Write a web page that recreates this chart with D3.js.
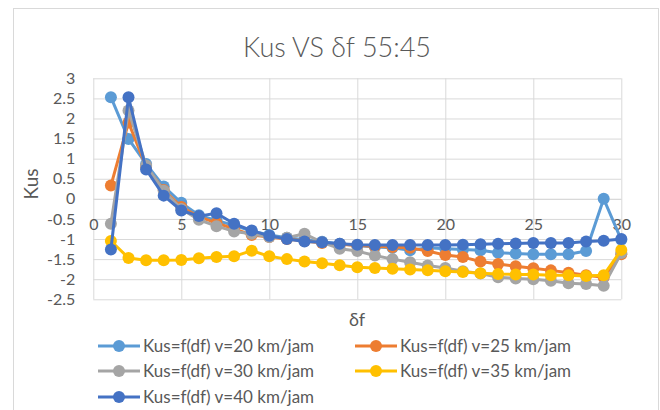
<!DOCTYPE html>
<html>
<head>
<meta charset="utf-8">
<script src="https://cdn.jsdelivr.net/npm/d3@7"></script>
<style>
  body { margin: 0; background: #fff; }
  svg text { font-family: Lato, "Open Sans", sans-serif; fill: #595959; }
</style>
</head>
<body>
<div id="chart"></div>
<script>
// === DATA ===
const df = d3.range(1, 31);
const seriesNames = [
    "Kus=f(df) v=20 km/jam",
    "Kus=f(df) v=25 km/jam",
    "Kus=f(df) v=30 km/jam",
    "Kus=f(df) v=35 km/jam",
    "Kus=f(df) v=40 km/jam"
];
const kusV20 = [2.53, 1.49, 0.87, 0.31, -0.1, -0.41, -0.54, -0.66, -0.8, -0.9,
    -0.97, -1.02, -1.07, -1.12, -1.16, -1.2, -1.22, -1.28, -1.22, -1.24,
    -1.26, -1.28, -1.34, -1.36, -1.38, -1.38, -1.38, -1.3, 0.0, -1.02];
const kusV25 = [0.33, 1.9, 0.8, 0.22, -0.2, -0.45, -0.6, -0.75, -0.9, -0.95,
    -1.0, -1.05, -1.1, -1.13, -1.16, -1.18, -1.2, -1.22, -1.3, -1.4,
    -1.45, -1.56, -1.62, -1.68, -1.73, -1.78, -1.84, -1.9, -1.95, -1.38];
const kusV30 = [-0.62, 2.2, 0.83, 0.2, -0.25, -0.52, -0.68, -0.81, -0.87, -0.95,
    -0.97, -0.87, -1.08, -1.24, -1.3, -1.41, -1.5, -1.58, -1.66, -1.72,
    -1.8, -1.86, -1.95, -1.98, -2.0, -2.04, -2.1, -2.12, -2.16, -1.35];
const kusV35 = [-1.05, -1.47, -1.53, -1.53, -1.52, -1.48, -1.45, -1.43, -1.29, -1.43,
    -1.5, -1.56, -1.6, -1.65, -1.7, -1.72, -1.74, -1.76, -1.78, -1.8,
    -1.82, -1.85, -1.87, -1.88, -1.88, -1.9, -1.9, -1.92, -1.9, -1.27];
const kusV40 = [-1.26, 2.53, 0.73, 0.08, -0.29, -0.43, -0.36, -0.62, -0.79, -0.92,
    -1.0, -1.06, -1.08, -1.12, -1.14, -1.15, -1.15, -1.15, -1.15, -1.15,
    -1.14, -1.13, -1.12, -1.11, -1.1, -1.1, -1.1, -1.06, -1.04, -1.0];
const colors = ["#5B9BD5", "#ED7D31", "#A5A5A5", "#FFC000", "#4472C4"];
const xTicks = d3.range(0, 31, 5);
const yTicks = d3.range(-2.5, 3.01, 0.5);

const allSeries = [kusV20, kusV25, kusV30, kusV35, kusV40];

// === LAYOUT ===
const width = 660, height = 410;
const svg = d3.select("#chart").append("svg")
    .attr("width", width)
    .attr("height", height);

// chart border
svg.append("rect")
    .attr("x", 13.5).attr("y", 8.5)
    .attr("width", 645).attr("height", 420)
    .attr("fill", "none")
    .attr("stroke", "#d9d9d9");

const x = d3.scaleLinear().domain([0, 30]).range([93.3, 621.3]);
const y = d3.scaleLinear().domain([-2.5, 3]).range([299.3, 78.3]);

// gridlines
svg.append("g")
    .attr("transform", `translate(0,${y(-2.5)})`)
    .call(d3.axisBottom(x).tickValues(xTicks).tickSize(-(y(-2.5) - y(3))).tickFormat(""))
    .call(g => g.select(".domain").remove())
    .call(g => g.selectAll("line").attr("stroke", "#d9d9d9"));

svg.append("g")
    .attr("transform", `translate(${x(0)},0)`)
    .call(d3.axisLeft(y).tickValues(yTicks).tickSize(-(x(30) - x(0))).tickPadding(18)
        .tickFormat(d => String(+d.toFixed(1))))
    .call(g => g.select(".domain").remove())
    .call(g => g.selectAll("line").attr("stroke", "#d9d9d9"))
    .call(g => g.selectAll("text").attr("font-size", 16).style("font-family", "Lato").attr("fill", "#595959"));

// x axis labels sit below the zero line
svg.append("g")
    .attr("transform", `translate(0,${y(0)})`)
    .call(d3.axisBottom(x).tickValues(xTicks).tickSize(0).tickPadding(20))
    .call(g => g.select(".domain").attr("stroke", "#d9d9d9"))
    .call(g => g.selectAll("text").attr("font-size", 16).style("font-family", "Lato").attr("fill", "#595959"));

// === SERIES ===
const line = d3.line()
    .x((d, i) => x(df[i]))
    .y(d => y(d));

allSeries.forEach((vals, s) => {
    const g = svg.append("g");
    g.append("path")
        .attr("d", line(vals))
        .attr("fill", "none")
        .attr("stroke", colors[s])
        .attr("stroke-width", 3)
        .attr("stroke-linejoin", "round");
    g.selectAll("circle")
        .data(vals)
        .enter()
        .append("circle")
        .attr("cx", (d, i) => x(df[i]))
        .attr("cy", d => y(d))
        .attr("r", 6)
        .attr("fill", colors[s]);
});

// === TEXT ===
svg.append("text")
    .attr("x", 337).attr("y", 57)
    .attr("text-anchor", "middle")
    .attr("font-size", 27)
    .style("font-weight", 300)
    .text("Kus VS δf 55:45");

svg.append("text")
    .attr("transform", "translate(38,184) rotate(-90)")
    .attr("text-anchor", "middle")
    .attr("font-size", 19)
    .text("Kus");

svg.append("text")
    .attr("x", 357).attr("y", 326)
    .attr("text-anchor", "middle")
    .attr("font-size", 18)
    .text("δf");

// === LEGEND ===
const legendPos = [[98, 346], [355, 346], [98, 371], [355, 371], [98, 397]];
seriesNames.forEach((name, s) => {
    const [lx, ly] = legendPos[s];
    const g = svg.append("g").attr("transform", `translate(${lx},${ly})`);
    g.append("line")
        .attr("x1", 0).attr("x2", 42)
        .attr("stroke", colors[s]).attr("stroke-width", 3);
    g.append("circle").attr("cx", 21).attr("r", 6).attr("fill", colors[s]);
    g.append("text")
        .attr("x", 45).attr("dy", "0.35em")
        .attr("font-size", 17)
        .text(name);
});
</script>
</body>
</html>
